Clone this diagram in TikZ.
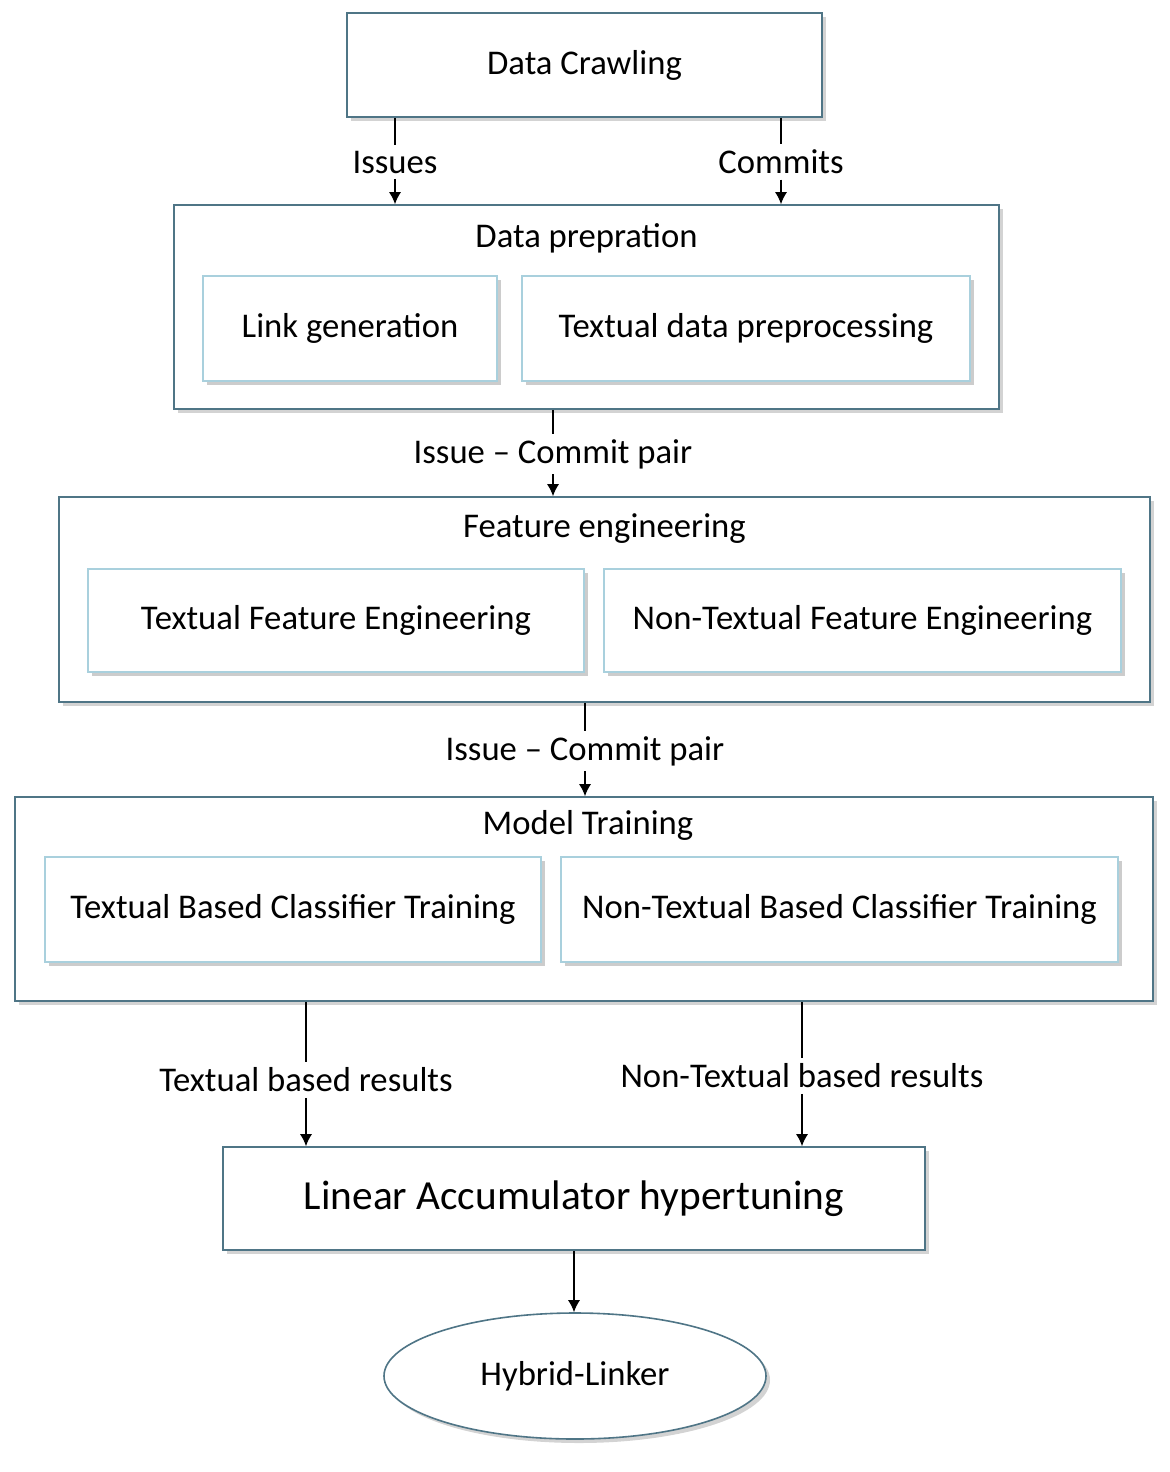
\documentclass[tikz,border=0pt]{standalone}
\usepackage{fontspec}
\setmainfont{Carlito}
\usetikzlibrary{positioning, arrows.meta, shapes.geometric, shadows}
\definecolor{outerc}{HTML}{4F7586}
\definecolor{innerc}{HTML}{A9D0DD}

\begin{document}
\begin{tikzpicture}[
    x=0.75pt, y=0.75pt,
    font=\fontsize{26}{30}\selectfont,
    outer/.style={draw=outerc, line width=1.2pt, fill=white, inner sep=0pt,
        drop shadow={shadow xshift=3pt, shadow yshift=-3pt, opacity=0.35}},
    inner/.style={draw=innerc, line width=1.2pt, fill=white, inner sep=0pt,
        drop shadow={shadow xshift=3pt, shadow yshift=-3pt, opacity=0.4}},
    box/.style 2 args={minimum width=#1*0.75pt, minimum height=#2*0.75pt},
    lbl/.style={inner sep=4pt},
    arrow/.style={-{Latex[length=9pt, width=9pt]}, line width=1pt}
]
\useasboundingbox (0,0) rectangle (1170,-1472);

% Boxes
\node[outer, box={475}{104}] (crawl) at (584.5,-65) {Data Crawling};

\node[outer, box={825}{204}] (prep) at (586.5,-307) {};
\node at (586.5,-238) {Data prepration};
\node[inner, box={294}{105}] (link) at (350,-328.5) {Link generation};
\node[inner, box={448}{105}] (textprep) at (746,-328.5) {Textual data preprocessing};

\node[outer, box={1091}{205}] (feat) at (604.5,-599.5) {};
\node at (604.5,-529) {Feature engineering};
\node[inner, box={496}{103}] (tfe) at (336,-620.5) {Textual Feature Engineering};
\node[inner, box={517}{103}] (ntfe) at (862.5,-620.5) {Non-Textual Feature Engineering};

\node[outer, box={1138}{204}] (train) at (584,-899) {};
\node at (588,-825) {Model Training};
\node[inner, box={496}{105}] (tbc) at (293,-909.5) {Textual Based Classifier Training};
\node[inner, box={557}{105}] (ntbc) at (839.5,-909.5) {Non-Textual Based Classifier Training};

\node[outer, box={702}{103}, font=\fontsize{31}{36}\selectfont] (accum) at (574,-1198.5) {Linear Accumulator hypertuning};

\node[ellipse, outer, box={382}{126}] (hybrid) at (575,-1376) {Hybrid-Linker};

% Labels
\node[lbl] (iss) at (395,-162) {Issues};
\node[lbl] (com) at (781,-162) {Commits};
\node[lbl] (pairA) at (553,-454) {Issue -- Commit pair};
\node[lbl] (pairB) at (585,-751) {Issue -- Commit pair};
\node[lbl] (tres) at (306,-1080) {Textual based results};
\node[lbl] (ntres) at (802,-1076) {Non-Textual based results};

% Connectors
\draw[line width=1pt] (iss |- crawl.south) -- (iss.north);
\draw[arrow] (iss.south) -- (iss |- prep.north);
\draw[line width=1pt] (com |- crawl.south) -- (com.north);
\draw[arrow] (com.south) -- (com |- prep.north);
\draw[line width=1pt] (pairA |- prep.south) -- (pairA.north);
\draw[arrow] (pairA.south) -- (pairA |- feat.north);
\draw[line width=1pt] (pairB |- feat.south) -- (pairB.north);
\draw[arrow] (pairB.south) -- (pairB |- train.north);
\draw[line width=1pt] (tres |- train.south) -- (tres.north);
\draw[arrow] (tres.south) -- (tres |- accum.north);
\draw[line width=1pt] (ntres |- train.south) -- (ntres.north);
\draw[arrow] (ntres.south) -- (ntres |- accum.north);
\draw[arrow] (accum.south) -- (accum.south |- hybrid.north);

\end{tikzpicture}
\end{document}
